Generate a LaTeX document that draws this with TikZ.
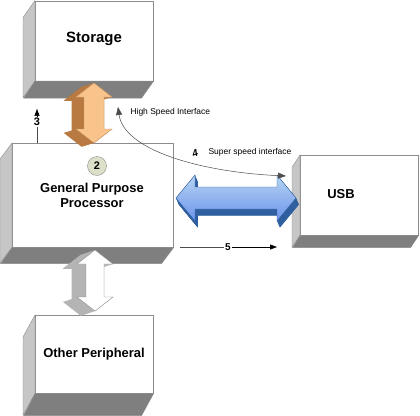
\documentclass[tikz,border=0pt]{standalone}
\usepackage{fontspec}
\setmainfont{Liberation Sans}
\usepackage{xcolor}
\usetikzlibrary{arrows.meta}

\definecolor{boxline}{HTML}{8C8C8C}
\definecolor{boxside}{HTML}{C6C6C6}
\definecolor{boxbottom}{HTML}{7F7F7F}
\definecolor{orfront}{HTML}{F9C48C}
\definecolor{orside}{HTML}{B87A40}
\definecolor{grside}{HTML}{B4B4B4}
\definecolor{blutop}{HTML}{86B8E8}
\definecolor{bluside}{HTML}{2F5F9F}
\definecolor{badge}{HTML}{DDE0C8}

\tikzset{
  front/.style={draw=boxline, fill=white, line width=0.6pt, inner sep=0pt, anchor=north west},
  sideface/.style={fill=boxside, draw=boxline, line width=0.4pt},
  bottomface/.style={fill=boxbottom, draw=boxline, line width=0.4pt},
  bigtxt/.style={font=\fontsize{13}{15}\selectfont\bfseries},
  smalltxt/.style={font=\fontsize{8.5}{10}\selectfont, anchor=west},
  numtxt/.style={font=\fontsize{11}{12}\selectfont\bfseries, inner sep=1pt},
  numarrow/.style={-{Triangle[length=7bp,width=5bp]}, line width=0.5pt},
  thinline/.style={line width=0.5pt, color=black!70}
}

\begin{document}
\begin{tikzpicture}[x=1bp, y=-1bp]
\fill[white] (0,0) rectangle (420,416);
\useasboundingbox (0,0) rectangle (420,416);
%%%%% Boxes %%%%%
\node[front, minimum width=118bp, minimum height=80bp] (stor) at (35,0.5) {};
\fill[sideface] (stor.north west) -- ++(-12,17) -- ++(0,80) -- (stor.south west) -- cycle;
\fill[bottomface] (stor.south west) -- (stor.south east) -- ++(-12,17) -- ++(-118,0) -- cycle;

\node[front, minimum width=161bp, minimum height=104bp] (proc) at (12,143) {};
\fill[sideface] (proc.north west) -- ++(-12,16) -- ++(0,104) -- (proc.south west) -- cycle;
\fill[bottomface] (proc.south west) -- (proc.south east) -- ++(-12,16) -- ++(-161,0) -- cycle;

\node[front, minimum width=118bp, minimum height=80bp] (usb) at (300,155) {};
\fill[sideface] (usb.north west) -- ++(-8,12) -- ++(0,80) -- (usb.south west) -- cycle;
\fill[bottomface] (usb.south west) -- (usb.south east) -- ++(-8,12) -- ++(-118,0) -- cycle;

\node[front, minimum width=118bp, minimum height=78bp] (oth) at (35,315) {};
\fill[sideface] (oth.north west) -- ++(-12,22) -- ++(0,78) -- (oth.south west) -- cycle;
\fill[bottomface] (oth.south west) -- (oth.south east) -- ++(-12,22) -- ++(-118,0) -- cycle;

%%%%% Orange arrow %%%%%
\foreach \t in {0,0.05,...,1}{
\fill[orside, shift={(-13*\t,4*\t)}] (94,83) -- (112,97) -- (104,97) -- (104,129) -- (112,129) -- (94,143) -- (76,129) -- (84,129) -- (84,97) -- (76,97) -- cycle;
}
\draw[fill=orfront, draw=orside!80, line width=0.4pt] (94,83) -- (112,97) -- (104,97) -- (104,129) -- (112,129) -- (94,143) -- (76,129) -- (84,129) -- (84,97) -- (76,97) -- cycle;

%%%%% Gray arrow %%%%%
\foreach \t in {0,0.05,...,1}{
\fill[grside, shift={(-15*\t,5*\t)}] (95,250) -- (113,264) -- (104,264) -- (104,297) -- (113,297) -- (95,311) -- (77,297) -- (86,297) -- (86,264) -- (77,264) -- cycle;
}
\draw[fill=white, draw=boxline, line width=0.4pt] (95,250) -- (113,264) -- (104,264) -- (104,297) -- (113,297) -- (95,311) -- (77,297) -- (86,297) -- (86,264) -- (77,264) -- cycle;

%%%%% Blue arrow %%%%%
\foreach \t in {0,0.05,...,1}{
\fill[bluside, shift={(3*\t,7*\t)}] (176,198) -- (195,175) -- (195,187) -- (277,187) -- (277,175) -- (296,198) -- (277,221) -- (277,209) -- (195,209) -- (195,221) -- cycle;
}
\draw[top color=blutop!60!white, bottom color=blutop!80!blue, draw=bluside, line width=0.4pt] (176,198) -- (195,175) -- (195,187) -- (277,187) -- (277,175) -- (296,198) -- (277,221) -- (277,209) -- (195,209) -- (195,221) -- cycle;

%%%%% Labels %%%%%
\node[bigtxt, font=\fontsize{15}{17}\selectfont\bfseries] (tstor) at (94,39) {Storage};
\node[draw=boxline, fill=badge, circle, minimum size=19bp, inner sep=0pt, font=\fontsize{11}{12}\selectfont\bfseries] (badge) at (97,166) {2};
\node[bigtxt, align=center] (tproc) at (92,195) {General Purpose\\Processor};
\node[bigtxt] (tusb) at (341,194) {USB};
\node[bigtxt] (toth) at (94,354) {Other Peripheral};

%%%%% Numbered markers %%%%%
\coordinate (p3) at (37,143);
\node[numtxt] (n3) at (37,122) {3};
\draw[thinline] (p3) -- (n3.south);
\draw[numarrow] (n3.north) -- ++(0,-8);

\node[numtxt, font=\fontsize{10}{12}\selectfont\bfseries] (n5) at (228,247) {5};
\coordinate (p5) at (180,247);
\coordinate (q5) at (277,247);
\draw[thinline] (p5) -- (n5.west);
\draw[numarrow] (n5.east) -- (q5);

\node[numtxt, rotate=20, font=\fontsize{10}{12}\selectfont\bfseries\itshape] (n4) at (195,153) {4};

%%%%% Interface curve %%%%%
\node[smalltxt] (hsi) at (127,112) {High Speed Interface};
\node[smalltxt] (ssi) at (205,152) {Super speed interface};
\coordinate (hs) at (118,107);
\coordinate (ss) at (286,176);
\draw[thinline, {Triangle[length=8bp,width=6bp]}-{Triangle[length=8bp,width=6bp]}] (hs) .. controls (124,150) and (200,172) .. (ss);
\end{tikzpicture}
\end{document}
